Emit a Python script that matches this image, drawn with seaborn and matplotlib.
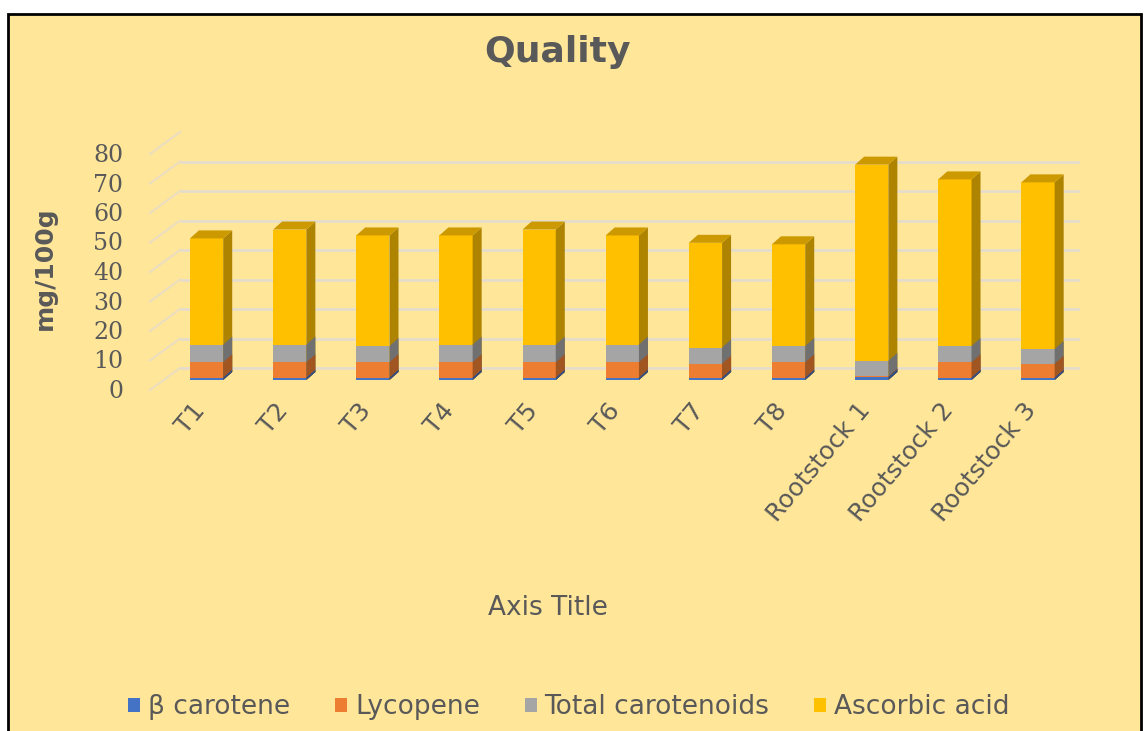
import numpy as np
import pandas as pd
import matplotlib
matplotlib.use("Agg")
import matplotlib.pyplot as plt
import matplotlib.transforms as mtransforms
from matplotlib.patches import Rectangle, Polygon, Patch
import seaborn as sns

# values (mg/100g)
treatments = ["T1", "T2", "T3", "T4", "T5", "T6", "T7", "T8",
              "Rootstock 1", "Rootstock 2", "Rootstock 3"]
beta_carotene = [0.8, 0.8, 0.8, 0.8, 0.8, 0.8, 0.8, 0.8, 1.0, 0.8, 0.8]
lycopene = [5.2, 5.2, 5.2, 5.2, 5.2, 5.2, 4.7, 5.2, 0.2, 5.2, 4.7]
total_carotenoids = [6.0, 6.0, 5.5, 6.0, 6.0, 6.0, 5.5, 5.5, 5.3, 5.5, 5.0]
ascorbic_acid = [36.0, 39.0, 37.5, 37.0, 39.0, 37.0, 35.5, 34.5, 66.5, 56.5, 56.5]

layers = ["β carotene", "Lycopene", "Total carotenoids", "Ascorbic acid"]
colors = {"β carotene": "#4472C4", "Lycopene": "#ED7D31",
          "Total carotenoids": "#A5A5A5", "Ascorbic acid": "#FFC000"}
yticks = [0, 10, 20, 30, 40, 50, 60, 70, 80]

txt = "#595959"
bg = "#FFE699"
grid_c = "#E6DCCB"

df = pd.DataFrame({"treatment": treatments, "β carotene": beta_carotene,
                   "Lycopene": lycopene, "Total carotenoids": total_carotenoids,
                   "Ascorbic acid": ascorbic_acid})
cum = df[layers].cumsum(axis=1)

W, H = 1146, 731
fig = plt.figure(figsize=(W / 100, H / 100), dpi=100)
fig.patch.set_facecolor("white")
fig.add_artist(Rectangle((8 / W, -0.05), (1141 - 8) / W, 1 - 14 / H + 0.05,
                         transform=fig.transFigure, facecolor=bg,
                         edgecolor="black", linewidth=2, zorder=-10))

ax = fig.add_axes([165 / W, 351 / H, 914.6 / W, 236 / H])
ax.set_facecolor("none")

# stacked bars: tallest cumulative first, smaller ones over it
layer_patches = {}
for k, layer in enumerate(reversed(layers)):
    n0 = len(ax.patches)
    sns.barplot(x=df["treatment"], y=cum[layer], color=colors[layer],
                width=0.4, saturation=1, linewidth=0, errorbar=None,
                zorder=3 + k * 0.1, ax=ax)
    layer_patches[layer] = (ax.patches[n0:], 3 + k * 0.1)

ax.set_xlim(-0.5, len(treatments) - 0.5)
ax.set_ylim(0, 80)
ax.set_yticks(yticks)
ax.set_xlabel("")
ax.set_ylabel("")
sns.despine(ax=ax, left=True, bottom=True)

# fake 3D depth for each bar
dx, dy = 9, 8
ident = mtransforms.IdentityTransform()
for layer in reversed(layers):
    patches, z = layer_patches[layer]
    rgb = np.array(matplotlib.colors.to_rgb(colors[layer]))
    for p in patches:
        (x0, y0), (x1, y1) = ax.transData.transform(
            [(p.get_x(), p.get_y()), (p.get_x() + p.get_width(), p.get_y() + p.get_height())])
        side = Polygon([(x1, y0), (x1 + dx, y0 + dy), (x1 + dx, y1 + dy), (x1, y1)],
                       closed=True, transform=ident, facecolor=rgb * 0.68,
                       edgecolor="none", zorder=z, clip_on=False)
        ax.add_patch(side)
        if layer == "Ascorbic acid":
            top = Polygon([(x0, y1), (x1, y1), (x1 + dx, y1 + dy), (x0 + dx, y1 + dy)],
                          closed=True, transform=ident, facecolor=rgb * 0.8,
                          edgecolor="none", zorder=z, clip_on=False)
            ax.add_patch(top)
for p in ax.patches:
    p.set_clip_on(False)

# back wall gridlines, shifted like the 3D view
back = ax.get_yaxis_transform() + mtransforms.ScaledTranslation(15 / 100, 12 / 100, fig.dpi_scale_trans)
ax.hlines(yticks, 0, 1, transform=back, colors=grid_c, linewidth=2, zorder=1)
# side wall diagonals
xl = ax.transAxes.transform((0, 0))[0]
for v in yticks:
    yv = ax.transData.transform((0, v))[1]
    ax.plot([xl - 15, xl + 15], [yv - 10, yv + 12], transform=ident,
            color=grid_c, linewidth=1.5, alpha=0.8, zorder=1, clip_on=False)

ax.tick_params(axis="y", length=0, pad=30, labelsize=17, labelcolor=txt)
ax.tick_params(axis="x", length=0, pad=19, labelsize=18, labelcolor=txt)
for lab in ax.get_yticklabels():
    lab.set_fontfamily("DejaVu Serif")
    lab.set_transform(lab.get_transform() + mtransforms.ScaledTranslation(0, -9 / 100, fig.dpi_scale_trans))
for lab in ax.get_xticklabels():
    lab.set_rotation(50)
    lab.set_rotation_mode("anchor")
    lab.set_ha("right")
    lab.set_va("center")
    lab.set_transform(lab.get_transform() + mtransforms.ScaledTranslation(-6 / 100, 0, fig.dpi_scale_trans))

fig.text(557.5 / W, 1 - 62 / H, "Quality", ha="center", va="baseline",
         fontsize=26, fontweight="bold", color=txt)
fig.text(45 / W, 1 - 268 / H, "mg/100g", rotation=90, ha="center", va="center",
         fontsize=18, fontweight="bold", color=txt)
fig.text(548 / W, 1 - 608 / H, "Axis Title", ha="center", va="center",
         fontsize=19, color=txt)

handles = [Patch(facecolor=colors[l], edgecolor="none", label=l) for l in layers]
fig.legend(handles=handles, loc="center", bbox_to_anchor=(569 / W, 1 - 707 / H),
           ncol=4, frameon=False, fontsize=19, labelcolor=txt,
           handlelength=0.45, handleheight=0.45, handletextpad=0.3,
           columnspacing=1.7)

fig.savefig("out.png", dpi=100, facecolor=fig.get_facecolor())
